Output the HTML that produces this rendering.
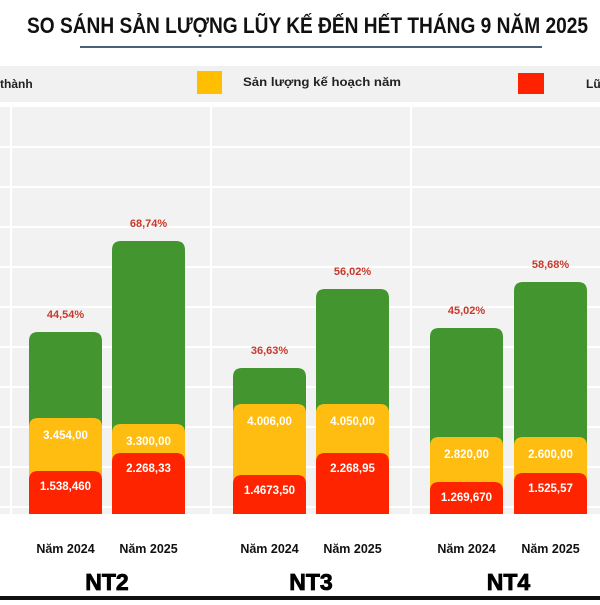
<!DOCTYPE html>
<html><head><meta charset="utf-8"><style>
body{margin:0;background:#fff;}
svg text{font-family:"Liberation Sans","DejaVu Sans",sans-serif;}
</style></head><body>
<svg id="c" width="600" height="600" viewBox="0 0 600 600">
<rect x="0" y="0" width="600" height="600" fill="#fff"/>
<text x="27" y="33" textLength="561" lengthAdjust="spacingAndGlyphs" font-size="22" font-weight="bold" fill="#111">SO SÁNH SẢN LƯỢNG LŨY KẾ ĐẾN HẾT THÁNG 9 NĂM 2025</text>
<rect x="80" y="46" width="462" height="2" fill="#4a6078"/>
<rect x="0" y="66" width="600" height="36" fill="#f1f1f1"/>
<g><text x="0" y="88" font-size="12" font-weight="bold" fill="#222">thành</text></g>
<g><rect x="197" y="71" width="25" height="23" fill="#ffbf00"/><text x="243" y="86" textLength="158" lengthAdjust="spacingAndGlyphs" font-size="12" font-weight="bold" fill="#222">Sản lượng kế hoạch năm</text></g>
<g><rect x="518" y="73" width="26" height="21" fill="#ff2200"/><text x="586" y="88" font-size="12" font-weight="bold" fill="#222">Lũ</text></g>
<rect x="0" y="107" width="600" height="407" fill="#f2f2f2"/>
<g id="grid"></g>
<g id="bars"></g>
</svg>
<script>
const groups=["NT2","NT3","NT4"];
const years=["Năm 2024","Năm 2025"];
const percents=["44,54%","68,74%","36,63%","56,02%","45,02%","58,68%"];
const planLabels=["3.454,00","3.300,00","4.006,00","4.050,00","2.820,00","2.600,00"];
const cumLabels=["1.538,460","2.268,33","1.4673,50","2.268,95","1.269,670","1.525,57"];
// displayed segment heights (visual units)
const greenTotal=[182,273,146,225,186,232];
const yellowTotal=[96,90,110,110,77,77];
const redTotal=[43,61,39,61,32,41];
const gridTicks=[0,1,2,3,4,5,6,7,8,9];

const NS="http://www.w3.org/2000/svg";
const base=514;
function y(v){return base-v;}
function xBar(i){const g=Math.floor(i/2),k=i%2;return [29,233,430][g]+k*[83,83,84][g];}
function mk(t,a,p){const e=document.createElementNS(NS,t);for(const k in a)e.setAttribute(k,a[k]);p.appendChild(e);return e;}
const grid=document.getElementById('grid'),bars=document.getElementById('bars');
gridTicks.forEach(t=>{const l=mk('rect',{x:0,y:147+t*40-1,width:600,height:2,fill:'#fff'},grid);

});
[10,210,410].forEach(x=>{const l=mk('rect',{x:x,y:107,width:2,height:407,fill:'#fff'},grid);

});
function seg(x,top,col,name){const h=base-top,r=9;
const p=mk('path',{d:`M${x},${base}V${top+r}Q${x},${top} ${x+r},${top}H${x+73-r}Q${x+73},${top} ${x+73},${top+r}V${base}Z`,fill:col},bars);

}
for(let i=0;i<6;i++){
 const x=xBar(i);
 seg(x,y(greenTotal[i]),'#43962f','bar-completed-'+i);
 seg(x,y(yellowTotal[i]),'#ffbd12','bar-plan-'+i);
 seg(x,y(redTotal[i]),'#ff2400','bar-cumulative-'+i);
 const pt=mk('text',{x:x+36.5,y:y(greenTotal[i])-14,'text-anchor':'middle','font-size':11,'font-weight':'bold',fill:'#c8392b'},bars);pt.textContent=percents[i];
 
 
 const yl=mk('text',{x:x+36.5,y:y(yellowTotal[i])+21,'text-anchor':'middle','font-size':11.5,'font-weight':'bold',fill:'#fff'},bars);yl.textContent=planLabels[i];
 
 
 const rl=mk('text',{x:x+36.5,y:y(redTotal[i])+19,'text-anchor':'middle','font-size':11.5,'font-weight':'bold',fill:'#fff'},bars);rl.textContent=cumLabels[i];
 
 
 const xl=mk('text',{x:x+36.5,y:553,'text-anchor':'middle','font-size':12.5,'font-weight':'bold',fill:'#111'},bars);xl.textContent=years[i%2];
 
 
}
groups.forEach((g,j)=>{const t=mk('text',{x:(xBar(2*j)+xBar(2*j+1)+73)/2,y:590,'text-anchor':'middle','font-size':23,'font-weight':'bold',fill:'#000',stroke:'#000','stroke-width':0.8},bars);t.textContent=g;

});
const bb=mk('rect',{x:0,y:596,width:600,height:4,fill:'#111'},bars);


</script>
</body></html>
